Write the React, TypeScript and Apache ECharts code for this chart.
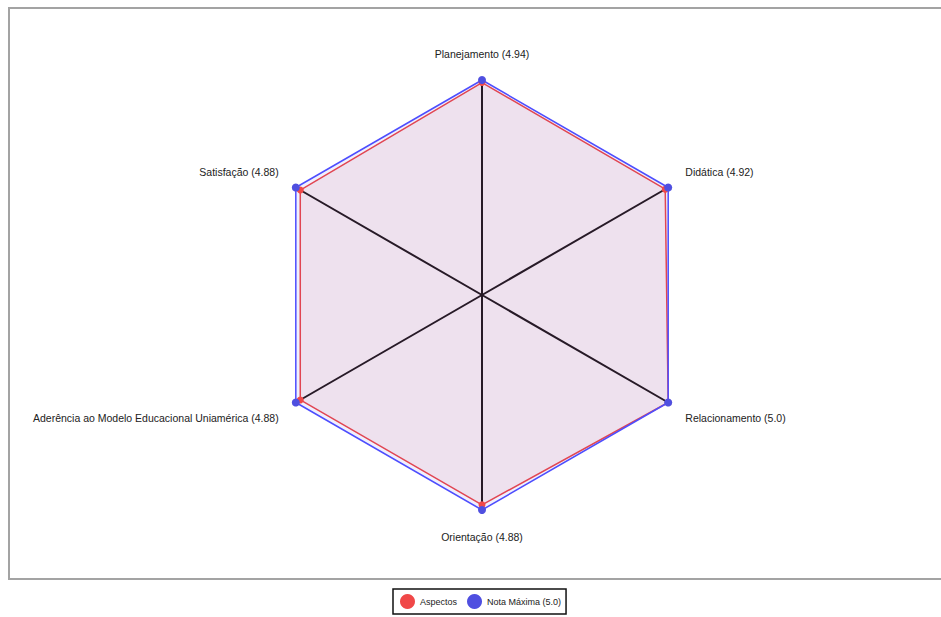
import React, { useEffect, useRef } from "react";
import * as echarts from "echarts";

// Indicators listed counter-clockwise from the top (ECharts radar order)
const categories = [
  "Planejamento",
  "Satisfação",
  "Aderência ao Modelo Educacional Uniamérica",
  "Orientação",
  "Relacionamento",
  "Didática",
];
const aspectValues = [4.94, 4.88, 4.88, 4.88, 5.0, 4.92];
const maxValues = [5.0, 5.0, 5.0, 5.0, 5.0, 5.0];
const seriesNames = ["Aspectos", "Nota Máxima (5.0)"];
const axisMax = 5;

const fmt = (v: number) => (Number.isInteger(v) ? v.toFixed(1) : String(v));
const labelOf = (i: number) => `${categories[i]} (${fmt(aspectValues[i])})`;

export default function App() {
  const ref = useRef<HTMLDivElement>(null);
  useEffect(() => {
    if (!ref.current) return;
    const chart = echarts.init(ref.current, undefined, { renderer: "svg" });
    const font = {
      color: "#222",
      fontSize: 10.5,
      fontFamily: "Liberation Sans, Arial, sans-serif",
    };
    const n = categories.length;
    chart.setOption({
      animation: false,
      backgroundColor: "#ffffff",
      graphic: [
        {
          type: "rect",
          shape: { x: 9, y: 8, width: 940, height: 571 },
          style: { fill: "none", stroke: "#a3a3a3", lineWidth: 2 },
          silent: true,
        },
      ],
      legend: {
        data: seriesNames,
        bottom: 3,
        left: 393,
        icon: "circle",
        itemWidth: 15,
        itemHeight: 15,
        itemGap: 10,
        padding: [5, 5, 5, 7],
        borderColor: "#111",
        borderWidth: 1.5,
        textStyle: { fontSize: 9, color: "#222", fontFamily: "Liberation Sans, Arial, sans-serif" },
      },
      radar: {
        center: [482, 295],
        radius: 215,
        startAngle: 90,
        nameGap: 14,
        indicator: categories.map((_, i) => ({
          name: labelOf(i),
          min: 0,
          max: axisMax,
        })),
        axisName: {
          ...font,
          padding: [7, 5, 7, 5],
          formatter: (name: string) => {
            const i = categories.findIndex((_, k) => labelOf(k) === name);
            const s = Math.sin(((90 + (i * 360) / n) * Math.PI) / 180);
            const isDiag = Math.abs(s) > 0.1 && Math.abs(s) < 0.9;
            if (isDiag && s > 0) return `{up|${name}}`;
            if (isDiag && s < 0) return `{down|${name}}`;
            return `{mid|${name}}`;
          },
          rich: {
            up: { ...font, padding: [0, 0, 18, 0] },
            down: { ...font, padding: [16, 0, 0, 0] },
            mid: { ...font },
          },
        },
        axisLine: { lineStyle: { color: "#141414", width: 2 } },
        splitLine: { show: false },
        splitArea: { show: false },
        axisTick: { show: false },
        axisLabel: { show: false },
      },
      series: [
        {
          type: "radar",
          name: seriesNames[0],
          symbol: "circle",
          symbolSize: 7,
          itemStyle: { color: "#f04848" },
          lineStyle: { color: "#f04848", width: 1.5 },
          areaStyle: { color: "rgba(230,60,60,0.12)" },
          data: [{ value: aspectValues, name: seriesNames[0] }],
        },
        {
          type: "radar",
          name: seriesNames[1],
          symbol: "circle",
          symbolSize: 8,
          itemStyle: { color: "#4f4fe0" },
          lineStyle: { color: "#4f4fff", width: 1.5 },
          areaStyle: { color: "rgba(60,60,230,0.11)" },
          data: [{ value: maxValues, name: seriesNames[1] }],
        },
      ],
    });
    return () => chart.dispose();
  }, []);
  return (
    <div
      ref={ref}
      style={{ position: "fixed", left: 0, top: 0, width: 941, height: 617 }}
    />
  );
}
